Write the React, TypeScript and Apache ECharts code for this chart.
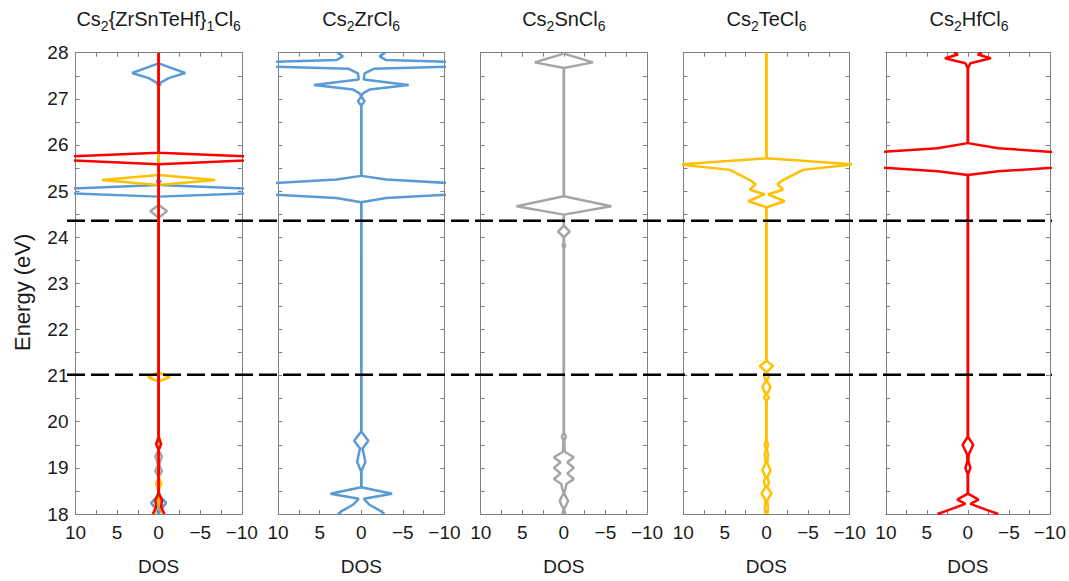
import React, { useEffect, useRef } from "react";
import * as echarts from "echarts";

// ---------- DATA ----------
const panelTitles = [
  "Cs{s|2}{ZrSnTeHf}{s|1}Cl{s|6}",
  "Cs{s|2}ZrCl{s|6}",
  "Cs{s|2}SnCl{s|6}",
  "Cs{s|2}TeCl{s|6}",
  "Cs{s|2}HfCl{s|6}",
];

const yTickLabels = [18, 19, 20, 21, 22, 23, 24, 25, 26, 27, 28];
const xTickLabels = [10, 5, 0, -5, -10];
const dashedLevels = [24.4, 21.1];

// Panel 1: mixed compound, element-resolved DOS
const mixZrE = [18.0, 18.1, 18.24, 18.38, 18.5, 24.88, 25.0, 25.13, 25.18, 25.21, 25.24, 27.25, 27.35, 27.45, 27.56, 27.77, 28.0];
const mixZrDos = [0, 0.3, 0.9, 0.2, 0, 0, 18, 0, 0, 0.25, 0, 0, 0.25, 1.2, 3.2, 0, 0];

const mixSnE = [18.0, 18.8, 18.93, 19.05, 19.15, 19.25, 19.38, 24.42, 24.57, 24.7, 28.0];
const mixSnDos = [0, 0, 0.4, 0.1, 0.2, 0.4, 0, 0, 1.0, 0, 0];

const mixTeE = [18.0, 18.2, 18.5, 18.66, 18.8, 19.4, 19.55, 19.7, 20.87, 20.97, 21.07, 25.13, 25.24, 25.35, 28.0];
const mixTeDos = [0.5, 0.2, 0, 0.3, 0, 0, 0.25, 0, 0, 1.3, 0, 0, 6.8, 0, 0];

const mixHfE = [18.0, 18.15, 18.3, 18.45, 19.38, 19.52, 19.66, 25.58, 25.71, 25.83, 28.0];
const mixHfDos = [0.7, 0.3, 0.4, 0, 0, 0.3, 0, 0, 16, 0, 0];

// Panel 2: Cs2ZrCl6
const zrE = [18.0, 18.08, 18.2, 18.33, 18.44, 18.58, 18.92, 19.13, 19.42, 19.59, 19.79, 24.76, 24.85, 25.0, 25.1, 25.25, 25.33, 26.85, 26.95, 27.05, 27.12, 27.2, 27.3, 27.42, 27.55, 27.65, 27.75, 27.84, 27.92, 27.97, 28.0];
const zrDos = [2.8, 2.2, 1.0, 0.3, 3.7, 0, 0, 0.5, 0.15, 0.85, 0, 0, 3, 18, 18, 3, 0, 0, 0.4, 0, 0.2, 1.0, 5.7, 0.3, 0.4, 1.5, 20, 3.0, 2.2, 2.6, 2.9];

// Panel 3: Cs2SnCl6
const snE = [18.0, 18.1, 18.2, 18.28, 18.36, 18.45, 18.55, 18.65, 18.76, 18.88, 19.0, 19.12, 19.23, 19.35, 19.6, 19.68, 19.76, 23.75, 23.82, 23.9, 24.0, 24.12, 24.25, 24.49, 24.67, 24.89, 27.67, 27.79, 27.97, 28.0];
const snDos = [0.2, 0, 0.3, 0.5, 0.3, 0, 0.2, 0.3, 1.2, 0.4, 1.2, 0.4, 1.2, 0.1, 0.05, 0.25, 0, 0, 0.15, 0, 0, 0.7, 0, 0, 5.7, 0, 0, 3.5, 0.2, 0];

// Panel 4: Cs2TeCl6
const teE = [18.0, 18.1, 18.3, 18.45, 18.58, 18.69, 18.8, 18.95, 19.1, 19.3, 19.4, 19.5, 19.62, 20.45, 20.52, 20.6, 20.75, 20.88, 21.0, 21.08, 21.21, 21.32, 24.65, 24.78, 24.93, 25.03, 25.15, 25.24, 25.46, 25.58, 25.71, 28.0];
const teDos = [0.1, 0.2, 0.1, 0.6, 0.1, 0.3, 0.1, 0.5, 0.1, 0.2, 0.05, 0.2, 0, 0, 0.3, 0.05, 0.5, 0.05, 0.3, 0.05, 0.8, 0, 0, 2.2, 0.2, 2.0, 1.3, 2.0, 4.4, 10.5, 0, 0];

// Panel 5: Cs2HfCl6
const hfE = [18.0, 18.09, 18.22, 18.31, 18.44, 18.85, 19.0, 19.15, 19.29, 19.5, 19.68, 25.35, 25.43, 25.67, 25.93, 26.04, 27.65, 27.77, 27.88, 27.96, 28.0];
const hfDos = [3.7, 2.3, 0.3, 1.3, 0, 0, 0.3, 0.05, 0.1, 0.65, 0, 0, 3.7, 25, 3.7, 0, 0, 0.3, 2.8, 1.2, 1.7];

// ---------- STYLE ----------
const C_BLUE = "#5B9BD5";
const C_GRAY = "#A5A5A5";
const C_YELLOW = "#FFC000";
const C_RED = "#FF0000";
const FONT = "Liberation Sans, Arial, sans-serif";
const AXIS_COLOR = "#7f7f7f";
const TEXT_COLOR = "#1a1a1a";

const panelCurves: { E: number[]; D: number[]; color: string }[][] = [
  [
    { E: mixSnE, D: mixSnDos, color: C_GRAY },
    { E: mixZrE, D: mixZrDos, color: C_BLUE },
    { E: mixTeE, D: mixTeDos, color: C_YELLOW },
    { E: mixHfE, D: mixHfDos, color: C_RED },
  ],
  [{ E: zrE, D: zrDos, color: C_BLUE }],
  [{ E: snE, D: snDos, color: C_GRAY }],
  [{ E: teE, D: teDos, color: C_YELLOW }],
  [{ E: hfE, D: hfDos, color: C_RED }],
];

const GRID_LEFT0 = 75.5;
const GRID_STEP = 202.6;
const GRID_W = 166.3;
const GRID_TOP = 52.7;
const GRID_H = 466.6;

const fmtX = (v: number) => {
  if (!xTickLabels.includes(v)) return "";
  return v < 0 ? "\u2212" + Math.abs(v) : String(v);
};
const fmtY = (v: number) => (yTickLabels.includes(v) ? String(v) : "");

function buildOption() {
  const grids: any[] = [];
  const xAxes: any[] = [];
  const yAxes: any[] = [];
  const series: any[] = [];
  const titles: any[] = [];

  for (let g = 0; g < 5; g++) {
    const left = GRID_LEFT0 + g * GRID_STEP;
    grids.push({ left, top: GRID_TOP, width: GRID_W, height: GRID_H, containLabel: false });
    titles.push({
      text: panelTitles[g],
      left: left + GRID_W / 2,
      top: 5,
      padding: 0,
      textAlign: "center",
      textStyle: {
        fontFamily: FONT,
        fontSize: 20,
        fontWeight: "normal",
        color: TEXT_COLOR,
        lineHeight: 28,
        rich: {
          s: { fontFamily: FONT, fontSize: 14, color: TEXT_COLOR, verticalAlign: "bottom", lineHeight: 28 },
        },
      },
    });
    const tickCommon = { inside: true, length: 4, lineStyle: { color: AXIS_COLOR, width: 1 } };
    const lineCommon = { show: true, onZero: false, lineStyle: { color: AXIS_COLOR, width: 1 } };
    xAxes.push({
      type: "value",
      gridIndex: g,
      position: "bottom",
      min: -10,
      max: 10,
      interval: 2.5,
      inverse: true,
      axisLine: lineCommon,
      axisTick: tickCommon,
      splitLine: { show: false },
      axisLabel: { formatter: fmtX, color: TEXT_COLOR, fontSize: 19, fontFamily: FONT, margin: 9 },
      name: "DOS",
      nameLocation: "middle",
      nameGap: 43,
      nameTextStyle: { color: TEXT_COLOR, fontSize: 19, fontFamily: FONT },
    });
    xAxes.push({
      type: "value",
      gridIndex: g,
      position: "top",
      min: -10,
      max: 10,
      interval: 2.5,
      inverse: true,
      axisLine: lineCommon,
      axisTick: tickCommon,
      splitLine: { show: false },
      axisLabel: { show: false },
    });
    yAxes.push({
      type: "value",
      gridIndex: g,
      position: "left",
      min: 18,
      max: 28,
      interval: 0.5,
      axisLine: lineCommon,
      axisTick: tickCommon,
      splitLine: { show: false },
      axisLabel: { show: g === 0, formatter: fmtY, color: TEXT_COLOR, fontSize: 19, fontFamily: FONT, margin: 7 },
      name: g === 0 ? "Energy (eV)" : "",
      nameLocation: "middle",
      nameGap: 42,
      nameTextStyle: { color: TEXT_COLOR, fontSize: 22, fontFamily: FONT, padding: [0, 18, 0, 0] },
    });
    yAxes.push({
      type: "value",
      gridIndex: g,
      position: "right",
      min: 18,
      max: 28,
      interval: 0.5,
      axisLine: lineCommon,
      axisTick: tickCommon,
      splitLine: { show: false },
      axisLabel: { show: false },
    });

    panelCurves[g].forEach((c, ci) => {
      [1, -1].forEach((sign) => {
        series.push({
          type: "line",
          xAxisIndex: 2 * g,
          yAxisIndex: 2 * g,
          data: c.E.map((e, i) => [sign * c.D[i], e]),
          showSymbol: false,
          symbol: "none",
          clip: true,
          silent: true,
          z: 2 + ci,
          lineStyle: { color: c.color, width: 2.5 },
        });
      });
    });
  }

  // overlay grid for dashed reference levels spanning all panels
  grids.push({ left: 67, top: GRID_TOP, width: 985, height: GRID_H });
  xAxes.push({ type: "value", gridIndex: 5, min: 0, max: 1, show: false });
  yAxes.push({ type: "value", gridIndex: 5, min: 18, max: 28, show: false });
  dashedLevels.forEach((lvl) => {
    series.push({
      type: "line",
      xAxisIndex: 10,
      yAxisIndex: 10,
      data: [
        [0, lvl],
        [1, lvl],
      ],
      showSymbol: false,
      symbol: "none",
      silent: true,
      z: 10,
      lineStyle: { color: "#000", width: 2.5, type: [18, 6] },
    });
  });

  return {
    animation: false,
    backgroundColor: "#ffffff",
    title: titles,
    grid: grids,
    xAxis: xAxes,
    yAxis: yAxes,
    series,
  };
}

export default function App() {
  const ref = useRef<HTMLDivElement>(null);
  useEffect(() => {
    if (!ref.current) return;
    const chart = echarts.init(ref.current, undefined, { renderer: "svg" });
    chart.setOption(buildOption() as any);
    return () => chart.dispose();
  }, []);
  return (
    <div
      ref={ref}
      style={{ position: "fixed", left: 0, top: 0, width: 1069, height: 581, background: "#fff" }}
    />
  );
}
